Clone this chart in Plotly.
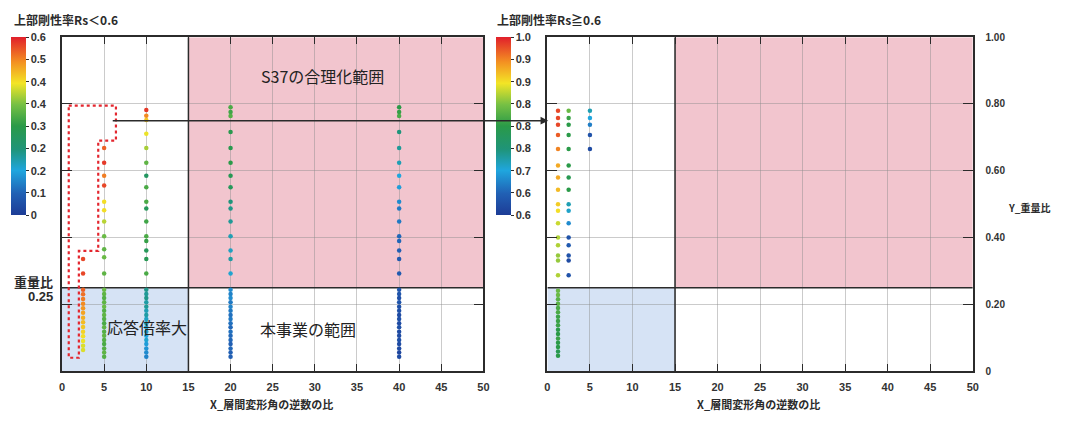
import plotly.graph_objects as go

# ---------------- data ----------------
# Left panel: upper stiffness ratio Rs < 0.6  (x = inverse drift ratio, y = weight ratio, c = Rs)
L25_Y = [0.336, 0.292, 0.244, 0.230, 0.216, 0.202, 0.188, 0.175, 0.160, 0.146, 0.132, 0.118, 0.104, 0.090, 0.076, 0.063]
L25_RS = [0.57, 0.57, 0.55, 0.54, 0.53, 0.52, 0.51, 0.50, 0.49, 0.48, 0.47, 0.46, 0.45, 0.44, 0.43, 0.43]

L05_Y = [0.668, 0.624, 0.585, 0.556, 0.507, 0.482, 0.448, 0.404, 0.365, 0.341, 0.292,
         0.244, 0.231, 0.219, 0.206, 0.193, 0.181, 0.168, 0.156, 0.143, 0.131, 0.118, 0.106, 0.093, 0.081, 0.068, 0.056, 0.043]
L05_RS = [0.55, 0.58, 0.53, 0.57, 0.45, 0.45, 0.41, 0.36, 0.35, 0.36, 0.35,
          0.36, 0.35, 0.34, 0.35, 0.36, 0.34, 0.35, 0.34, 0.33, 0.35, 0.34, 0.35, 0.34, 0.33, 0.34, 0.35, 0.34]

L10_Y = [0.782, 0.765, 0.752, 0.711, 0.668, 0.624, 0.585, 0.551, 0.507, 0.487, 0.448, 0.404, 0.390, 0.361, 0.336, 0.292,
         0.244, 0.231, 0.219, 0.206, 0.193, 0.181, 0.168, 0.156, 0.143, 0.131, 0.118, 0.106, 0.093, 0.081, 0.068, 0.056, 0.043]
L10_RS = [0.58, 0.52, 0.47, 0.44, 0.40, 0.35, 0.26, 0.33, 0.33, 0.27, 0.32, 0.33, 0.31, 0.27, 0.28, 0.33,
          0.21, 0.20, 0.21, 0.19, 0.20, 0.18, 0.19, 0.17, 0.18, 0.16, 0.17, 0.15, 0.16, 0.14, 0.13, 0.12, 0.11]

L20_Y = [0.790, 0.776, 0.764, 0.716, 0.668, 0.624, 0.585, 0.551, 0.507, 0.487, 0.448, 0.404, 0.361, 0.336, 0.292,
         0.244, 0.231, 0.219, 0.206, 0.193, 0.181, 0.168, 0.156, 0.143, 0.131, 0.118, 0.106, 0.093, 0.081, 0.068, 0.056, 0.043]
L20_RS = [0.33, 0.32, 0.34, 0.29, 0.29, 0.30, 0.28, 0.27, 0.22, 0.21, 0.20, 0.18, 0.17, 0.19, 0.16,
          0.12, 0.11, 0.12, 0.10, 0.11, 0.10, 0.09, 0.10, 0.09, 0.08, 0.09, 0.08, 0.08, 0.07, 0.08, 0.07, 0.07]

L40_Y = [0.790, 0.776, 0.764, 0.716, 0.668, 0.624, 0.585, 0.551, 0.507, 0.487, 0.448, 0.404, 0.390, 0.361, 0.336, 0.292,
         0.244, 0.231, 0.219, 0.206, 0.193, 0.181, 0.168, 0.156, 0.143, 0.131, 0.118, 0.106, 0.093, 0.081, 0.068, 0.056, 0.043]
L40_RS = [0.30, 0.31, 0.33, 0.22, 0.20, 0.18, 0.15, 0.14, 0.12, 0.10, 0.10, 0.08, 0.08, 0.07, 0.06, 0.06,
          0.05, 0.05, 0.04, 0.05, 0.04, 0.04, 0.03, 0.04, 0.03, 0.04, 0.03, 0.03, 0.04, 0.03, 0.03, 0.02, 0.03]

# Right panel: upper stiffness ratio Rs >= 0.6
R125_Y = [0.780, 0.758, 0.738, 0.707, 0.665, 0.616, 0.580, 0.543, 0.500, 0.480, 0.443, 0.400, 0.377, 0.346, 0.331, 0.287,
          0.241, 0.228, 0.215, 0.202, 0.189, 0.176, 0.163, 0.150, 0.137, 0.124, 0.111, 0.098, 0.085, 0.072, 0.059, 0.046]
R125_RS = [0.98, 0.98, 0.98, 0.97, 0.95, 0.93, 0.93, 0.92, 0.91, 0.90, 0.88, 0.87, 0.87, 0.86, 0.86, 0.87,
           0.84, 0.84, 0.83, 0.83, 0.82, 0.82, 0.81, 0.81, 0.81, 0.80, 0.80, 0.81, 0.80, 0.80, 0.79, 0.80]

R25_Y = [0.780, 0.758, 0.738, 0.707, 0.665, 0.616, 0.580, 0.543, 0.500, 0.480, 0.443, 0.400, 0.377, 0.346, 0.331, 0.287]
R25_RS = [0.84, 0.81, 0.80, 0.80, 0.80, 0.80, 0.79, 0.80, 0.72, 0.71, 0.68, 0.63, 0.64, 0.63, 0.62, 0.63]

R5_Y = [0.780, 0.758, 0.738, 0.707, 0.665]
R5_RS = [0.72, 0.70, 0.67, 0.63, 0.62]

# Column positions (inverse drift-angle ratio)
LEFT_COLUMNS = [(2.5, L25_Y, L25_RS), (5, L05_Y, L05_RS), (10, L10_Y, L10_RS),
                (20, L20_Y, L20_RS), (40, L40_Y, L40_RS)]
RIGHT_COLUMNS = [(1.25, R125_Y, R125_RS), (2.5, R25_Y, R25_RS), (5, R5_Y, R5_RS)]

# Region boundaries
S37_X = [15, 50]
S37_Y = [0.25, 1.0]
AMP_X = [0, 15]
AMP_Y = [0, 0.25]

# Dotted outline around large-amplification cases
OUTLINE_X = [0.8, 6.4, 6.4, 4.3, 4.3, 2.0, 2.0, 0.8, 0.8]
OUTLINE_Y = [0.795, 0.795, 0.69, 0.69, 0.36, 0.36, 0.04, 0.04, 0.795]

# Axis ticks
X_TICKS = [0, 5, 10, 15, 20, 25, 30, 35, 40, 45, 50]
Y_TICKS = [0, 0.2, 0.4, 0.6, 0.8, 1.0]
Y_TICKTEXT = ["0", "0.20", "0.40", "0.60", "0.80", "1.00"]

CB1_VALS = [0, 0.075, 0.15, 0.225, 0.3, 0.375, 0.45, 0.525, 0.6]
CB1_TEXT = ["0", "0.1", "0.2", "0.2", "0.3", "0.4", "0.4", "0.5", "0.6"]
CB2_VALS = [0.6, 0.65, 0.7, 0.75, 0.8, 0.85, 0.9, 0.95, 1.0]
CB2_TEXT = ["0.6", "0.6", "0.7", "0.8", "0.8", "0.8", "0.9", "0.9", "1.0"]

# ---------------- styling ----------------
W, H = 1070, 421
FONT = "Liberation Sans, Arial, Noto Sans CJK JP, sans-serif"
JFONT = "Noto Sans CJK JP, Liberation Sans, sans-serif"
INK = "#2b2b2b"
PINK = "#f2c5ce"
LBLUE = "#d6e3f5"
GRID = "rgba(140,140,140,0.45)"

COLORSCALE = [
    [0.00, "#1d3c96"], [0.12, "#2160b4"], [0.25, "#1fa6de"], [0.37, "#1f9478"],
    [0.50, "#2a9a48"], [0.62, "#76c044"], [0.74, "#f3e526"], [0.86, "#f39022"],
    [1.00, "#e11f2b"],
]

def px_x(p):
    return p / W

def px_y(p):
    return (H - p) / H

X1_DOM = [px_x(59.5), px_x(484.5)]
X2_DOM = [px_x(549), px_x(978)]
Y_DOM = [px_y(375), px_y(33)]

fig = go.Figure()

for xv, ys, cs in LEFT_COLUMNS:
    fig.add_trace(go.Scatter(
        x=[xv] * len(ys), y=ys, mode="markers", xaxis="x", yaxis="y",
        marker=dict(size=4.5, color=cs, coloraxis="coloraxis", line=dict(width=0)),
        showlegend=False, hoverinfo="x+y"))

for xv, ys, cs in RIGHT_COLUMNS:
    fig.add_trace(go.Scatter(
        x=[xv] * len(ys), y=ys, mode="markers", xaxis="x2", yaxis="y2",
        marker=dict(size=4.5, color=cs, coloraxis="coloraxis2", line=dict(width=0)),
        showlegend=False, hoverinfo="x+y"))

fig.add_trace(go.Scatter(
    x=OUTLINE_X, y=OUTLINE_Y, mode="lines", xaxis="x", yaxis="y",
    line=dict(color="#e3262e", width=2.2, dash="dot"),
    showlegend=False, hoverinfo="skip"))

shapes = []
for xr, yr in (("x", "y"), ("x2", "y2")):
    shapes.append(dict(type="rect", xref=xr, yref=yr, x0=S37_X[0], x1=S37_X[1],
                       y0=S37_Y[0], y1=S37_Y[1], fillcolor=PINK, line=dict(width=0), layer="below"))
    shapes.append(dict(type="rect", xref=xr, yref=yr, x0=AMP_X[0], x1=AMP_X[1],
                       y0=AMP_Y[0], y1=AMP_Y[1], fillcolor=LBLUE, line=dict(width=0), layer="below"))
    shapes.append(dict(type="line", xref=xr, yref=yr, x0=AMP_X[1], x1=AMP_X[1],
                       y0=0, y1=1, line=dict(color=INK, width=1.5), layer="between"))
    shapes.append(dict(type="line", xref=xr, yref=yr, x0=0, x1=50,
                       y0=AMP_Y[1], y1=AMP_Y[1], line=dict(color=INK, width=1.5), layer="between"))

def bold(size, family=FONT, color=INK):
    return dict(family=family, size=size, color=color, weight="bold")

def note(text, x, y, font, xanchor="center", xref="paper", yref="paper"):
    return dict(text=text, x=x, y=y, xref=xref, yref=yref, xanchor=xanchor,
                yanchor="middle", showarrow=False, font=font)

annotations = [
    note("S37の合理化範囲", 30.9, 0.883, dict(family=JFONT, size=16, color="#222"), xref="x", yref="y"),
    note("本事業の範囲", 29.2, 0.126, dict(family=JFONT, size=16, color="#222"), xref="x", yref="y"),
    note("応答倍率大", 10.1, 0.132, dict(family=JFONT, size=16, color="#222"), xref="x", yref="y"),
    note("重量比", px_x(52), px_y(283), bold(13, JFONT), xanchor="right"),
    note("0.25", px_x(52), px_y(299), bold(13), xanchor="right"),
    note("上部剛性率Rs＜0.6", px_x(9), px_y(15), bold(12, JFONT), xanchor="left"),
    note("上部剛性率Rs≧0.6", px_x(496), px_y(15), bold(12, JFONT), xanchor="left"),
    note("X_層間変形角の逆数の比", px_x(271), px_y(409), bold(11, JFONT)),
    note("X_層間変形角の逆数の比", px_x(762), px_y(409), bold(11, JFONT)),
    note("Y_重量比", px_x(1035), px_y(207), bold(10, JFONT)),
    # arrow linking the outlined cases to the right panel
    dict(text="", x=0.1, y=0.75, xref="x2", yref="y2", ax=-437, ay=0,
         showarrow=True, arrowhead=2, arrowsize=1.1, arrowwidth=1.4, arrowcolor=INK, standoff=0),
]

def xaxis(dom, anchor):
    return dict(domain=dom, anchor=anchor, range=[0, 50], tickvals=X_TICKS,
                showgrid=True, gridcolor=GRID, gridwidth=1, zeroline=False,
                showline=True, linecolor=INK, linewidth=1.5, mirror="ticks",
                ticks="inside", ticklen=7, tickcolor=INK, tickwidth=1.2,
                tickfont=bold(11, color="#333"), ticklabelstandoff=5, fixedrange=True)

def yaxis(anchor, labels, side):
    d = dict(domain=Y_DOM, anchor=anchor, range=[0, 1], tickvals=Y_TICKS,
             showgrid=True, gridcolor=GRID, gridwidth=1, zeroline=False,
             showline=True, linecolor=INK, linewidth=1.5, mirror="ticks",
             ticks="inside", ticklen=10, tickcolor=INK, tickwidth=1.2,
             showticklabels=labels, side=side, fixedrange=True)
    if labels:
        d.update(ticktext=Y_TICKTEXT, tickfont=bold(10, color="#333"), ticklabelstandoff=9)
    return d

def colorbar(xpos, vals, text):
    return dict(x=px_x(xpos), xanchor="left", xpad=0, y=Y_DOM[1], yanchor="top", ypad=0,
                len=182 / H, lenmode="fraction", thickness=15, thicknessmode="pixels",
                outlinewidth=0, tickvals=vals, ticktext=text, ticks="outside",
                ticklen=3, tickcolor=INK, tickfont=bold(11, color="#333"))

fig.update_layout(
    width=W, height=H, margin=dict(l=0, r=0, t=0, b=0),
    paper_bgcolor="white", plot_bgcolor="white",
    font=dict(family=FONT, color=INK),
    xaxis=xaxis(X1_DOM, "y"), yaxis=yaxis("x", False, "left"),
    xaxis2=xaxis(X2_DOM, "y2"), yaxis2=yaxis("x2", True, "right"),
    coloraxis=dict(colorscale=COLORSCALE, cmin=0, cmax=0.6,
                   colorbar=colorbar(8, CB1_VALS, CB1_TEXT)),
    coloraxis2=dict(colorscale=COLORSCALE, cmin=0.6, cmax=1.0,
                    colorbar=colorbar(497, CB2_VALS, CB2_TEXT)),
    shapes=shapes, annotations=annotations,
)

fig.write_html("out.html")
